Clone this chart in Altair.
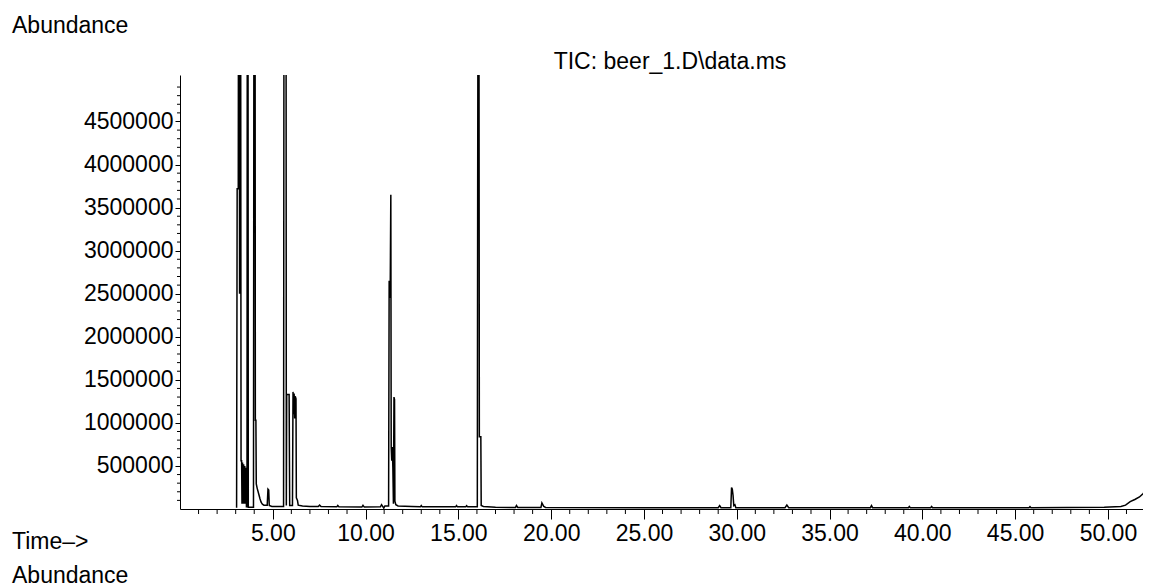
import altair as alt
import pandas as pd

time = [
    3.05, 3.08, 3.14, 3.16, 3.19, 3.21, 3.23, 3.26, 3.29, 3.32, 3.34, 3.37, 3.40, 3.43,
    3.46, 3.49, 3.52, 3.55, 3.58, 3.61, 3.63, 3.66, 3.68, 3.96, 3.99, 4.04, 4.06, 4.09,
    4.11, 4.16, 4.21, 4.26, 4.31, 4.37, 4.44, 4.52, 4.70, 4.74, 4.78, 4.81, 4.95, 5.58,
    5.61, 5.71, 5.73, 5.75, 5.88, 5.91, 6.06, 6.09, 6.12, 6.15, 6.18, 6.21, 6.25, 6.27,
    6.33, 6.37, 6.60, 7.00, 7.45, 7.52, 7.60, 8.45, 8.50, 8.56, 9.80, 9.86, 9.93, 10.80,
    10.86, 10.92, 10.98, 11.04, 11.24, 11.27, 11.30, 11.33, 11.36, 11.38, 11.41, 11.44,
    11.47, 11.50, 11.53, 11.56, 11.58, 11.63, 11.75, 12.50, 12.95, 13.00, 13.05, 14.85,
    14.90, 14.95, 15.40, 15.44, 15.50, 16.02, 16.04, 16.07, 16.10, 16.13, 16.21, 16.23,
    16.35, 17.00, 18.08, 18.13, 18.20, 19.45, 19.50, 19.60, 19.70, 25.00, 29.00, 29.08,
    29.15, 29.68, 29.72, 29.76, 29.80, 29.84, 29.90, 29.95, 32.60, 32.70, 32.80, 37.20,
    37.26, 37.32, 39.25, 39.30, 39.35, 40.45, 40.50, 40.55, 45.75, 45.80, 45.85, 49.80,
    50.70, 50.95, 51.20, 51.45, 51.70, 51.90, 52.10,
]
abundance = [
    15000, 3720000, 3720000, 8000000, 8000000, 2500000, 8000000, 8000000, 560000, 560000,
    60000, 540000, 60000, 520000, 60000, 500000, 60000, 480000, 25000, 25000, 8000000,
    8000000, 20000, 20000, 8000000, 8000000, 1030000, 1030000, 290000, 240000, 200000,
    160000, 120000, 80000, 55000, 45000, 45000, 230000, 220000, 40000, 30000, 30000,
    8000000, 8000000, 40000, 1330000, 1330000, 40000, 40000, 1360000, 1100000, 1340000,
    1050000, 1310000, 1280000, 130000, 100000, 45000, 35000, 30000, 30000, 45000, 28000,
    25000, 40000, 25000, 22000, 42000, 22000, 25000, 50000, 30000, 10000, 35000, 35000,
    2650000, 2450000, 2650000, 3650000, 720000, 560000, 720000, 480000, 60000, 1300000,
    1270000, 90000, 50000, 35000, 28000, 25000, 40000, 25000, 25000, 40000, 25000, 25000,
    38000, 25000, 25000, 3700000, 8000000, 8000000, 840000, 840000, 40000, 30000, 20000,
    18000, 40000, 18000, 18000, 70000, 30000, 18000, 15000, 15000, 40000, 15000, 15000,
    250000, 230000, 160000, 40000, 50000, 15000, 15000, 45000, 15000, 15000, 40000, 15000,
    15000, 30000, 15000, 15000, 30000, 15000, 15000, 28000, 15000, 20000, 30000, 45000,
    85000, 110000, 140000, 180000, 230000,
]

x_major = [5, 10, 15, 20, 25, 30, 35, 40, 45, 50]
x_minor = [v for v in range(1, 52) if v % 5 != 0]
y_major = [500000, 1000000, 1500000, 2000000, 2500000, 3000000, 3500000, 4000000, 4500000]
y_minor = [v * 100000 for v in range(1, 51) if v % 5 != 0]

FONT = "Liberation Sans"
FS = 23
W, H = 963, 434
X_DOMAIN = [0, 51.89]
Y_DOMAIN = [0, 5040000]

df = pd.DataFrame({"time": time, "abundance": abundance})
xs = alt.Scale(domain=X_DOMAIN, nice=False, zero=False)
ys = alt.Scale(domain=Y_DOMAIN, nice=False, zero=False)

x_axis = alt.Axis(
    values=x_major, format=".2f", title=None, grid=False, tickSize=10, orient="bottom",
    labelPadding=3, labelFontSize=FS, labelFont=FONT, labelColor="black",
    domainColor="black", tickColor="black", labelFlush=False, labelOverlap=False)
y_axis = alt.Axis(
    values=y_major, format="d", title=None, grid=False, tickSize=5, orient="left",
    labelPadding=2, labelFontSize=FS, labelFont=FONT, labelColor="black",
    domainColor="black", tickColor="black", labelFlush=False, labelOverlap=False)

line = alt.Chart(df).mark_line(color="black", strokeWidth=1.5, clip=True).encode(
    x=alt.X("time:Q", scale=xs, axis=x_axis),
    y=alt.Y("abundance:Q", scale=ys, axis=y_axis),
)

xminor = alt.Chart(pd.DataFrame({"time": x_minor})).mark_rule(color="black", strokeWidth=1).encode(
    x=alt.X("time:Q", scale=xs, axis=x_axis), y=alt.value(H), y2=alt.value(H + 5))
yminor = alt.Chart(pd.DataFrame({"abundance": y_minor})).mark_rule(color="black", strokeWidth=1).encode(
    y=alt.Y("abundance:Q", scale=ys, axis=y_axis), x=alt.value(-3), x2=alt.value(0))


def label(txt, x, y, align="left"):
    return alt.Chart(pd.DataFrame({"s": [txt]})).mark_text(
        font=FONT, fontSize=FS, color="black", align=align, baseline="alphabetic"
    ).encode(text="s:N", x=alt.value(x), y=alt.value(y))


texts = [
    label("Abundance", -168, -42),
    label("TIC: beer_1.D\\data.ms", 490, -6, align="center"),
    label("Time\u2013>", -168, 474),
    label("Abundance", -168, 508),
]

chart = alt.layer(line, xminor, yminor, *texts).properties(
    width=W, height=H,
    padding={"left": 172, "top": 67, "right": 0, "bottom": 79},
    autosize=alt.AutoSizeParams(type="none"),
).configure(background="white").configure_view(stroke=None)

chart.save("out.html", embed_options={"renderer": "svg", "actions": False})
